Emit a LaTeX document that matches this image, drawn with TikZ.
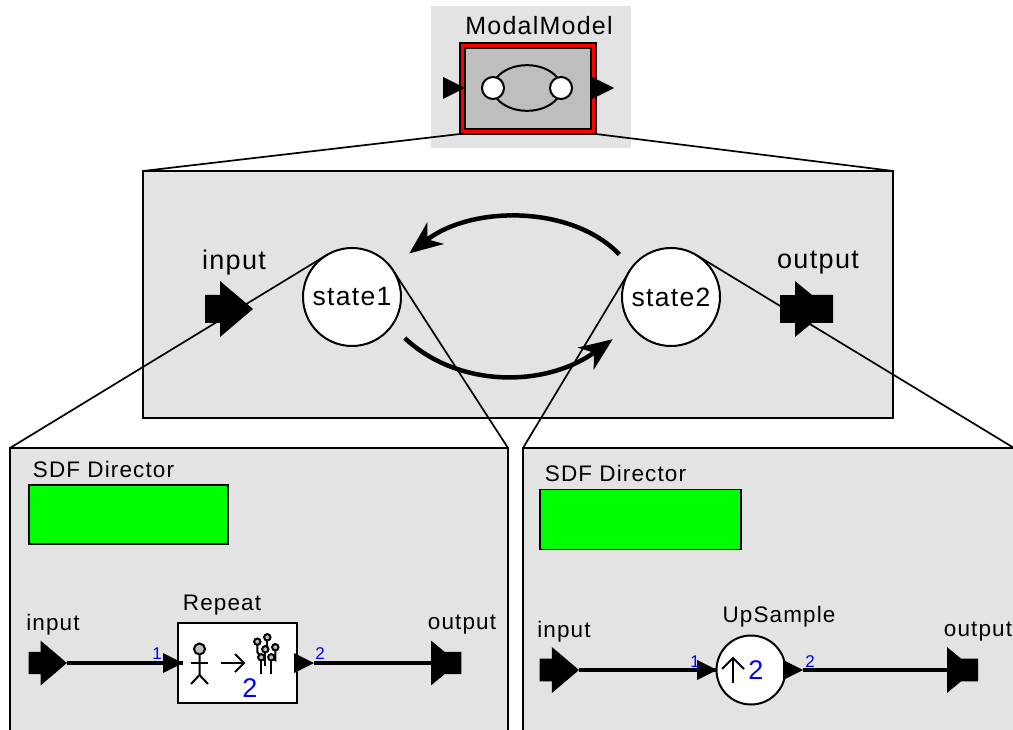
\documentclass[tikz,border=0pt]{standalone}
\usepackage{fontspec}
\usepackage{tikz}
\usetikzlibrary{arrows.meta}
\setmainfont{Liberation Sans}
\newfontfamily\widefont[LetterSpace=5]{Liberation Sans}
\definecolor{panelgray}{RGB}{227,227,227}
\definecolor{modelgray}{RGB}{190,190,190}
\definecolor{dirgreen}{RGB}{0,255,0}
\tikzset{
  panel/.style={rectangle, draw, fill=panelgray, line width=1.7pt, inner sep=0pt, outer sep=0pt},
  director/.style={rectangle, draw, fill=dirgreen, line width=1.7pt, inner sep=0pt, outer sep=0pt},
  state/.style={circle, draw, fill=white, line width=2pt, minimum size=98pt, inner sep=0pt, outer sep=0pt, font=\widefont\fontsize{26.5}{27}\selectfont},
  biglabel/.style={inner sep=0pt, font=\widefont\fontsize{27}{27}\selectfont},
  smalllabel/.style={inner sep=0pt, font=\widefont\fontsize{22.5}{22}\selectfont},
  portnum/.style={inner sep=0pt, text=blue, font=\fontsize{17}{17}\selectfont},
  factor/.style={inner sep=0pt, text=blue, font=\fontsize{27}{27}\selectfont},
  zoomline/.style={line width=1.7pt},
  wire/.style={line width=4.3pt},
  iconline/.style={line width=2pt},
  trans/.style={line width=4.5pt, -{Stealth[length=33pt,width=27pt,inset=10pt]}},
  inport/.pic={\fill (-48,-14) -- (-33,-14) -- (-33,-28) -- (0,0) -- (-33,28) -- (-33,14) -- (-48,14) -- cycle;
    \coordinate (-tip) at (0,0);},
  outport/.pic={\fill (0,-28) -- (17,-14) -- (38,-14) -- (38,14) -- (17,14) -- (0,28) -- cycle;
    \coordinate (-base) at (0,0);},
  triport/.pic={\fill (-20,-10) -- (0,0) -- (-20,10) -- cycle;
    \coordinate (-tip) at (0,0);},
}
\begin{document}
\begin{tikzpicture}[x=1pt,y=-1pt]
  \path[use as bounding box, clip] (0,0) rectangle (1013,730);

  % Grey backgrounds
  \node[rectangle, fill=panelgray, inner sep=0pt, minimum width=200pt, minimum height=142pt] (modelBack) at (531,77) {};
  \node[panel, minimum width=750pt, minimum height=247pt] (canvas) at (518,294.5) {};
  \node[panel, minimum width=498pt, minimum height=352pt] (leftPanel) at (259,624) {};
  \node[panel, minimum width=491pt, minimum height=352pt] (rightPanel) at (768.5,624) {};

  % ModalModel actor
  \node[biglabel, font=\widefont\fontsize{25}{25}\selectfont] (modelName) at (539,26) {ModalModel};
  \node[rectangle, draw, fill=red, line width=2pt, inner sep=0pt, outer sep=0pt, minimum width=136pt, minimum height=91pt] (modelBox) at (528,88.5) {};
  \node[rectangle, draw, fill=modelgray, line width=2pt, inner sep=0pt, outer sep=0pt, minimum width=126pt, minimum height=81pt] (modelInner) at (528,88.5) {};
  \node[circle, draw, fill=white, iconline, minimum size=22pt, inner sep=0pt, outer sep=0pt] (iconL) at (493,88) {};
  \node[circle, draw, fill=white, iconline, minimum size=22pt, inner sep=0pt, outer sep=0pt] (iconR) at (561,88) {};
  \draw[iconline] (iconL.70) .. controls (510,61) and (544,61) .. (iconR.110);
  \draw[iconline] (iconL.-70) .. controls (510,115) and (544,115) .. (iconR.-110);
  \pic[scale=1.1] (modelIn) at (465,88) {triport};
  \pic[scale=1.15] (modelOut) at (614,88) {triport};

  % Zoom lines
  \draw[zoomline] (modelBox.south west) -- (canvas.north west);
  \draw[zoomline] (modelBox.south east) -- (canvas.north east);
  \node[state] (state1) at (352,297) {state1};
  \node[state] (state2) at (671,297) {state2};
  \draw[zoomline] (state1.120) -- (leftPanel.north west);
  \draw[zoomline] (state1.34) -- (leftPanel.north east);
  \draw[zoomline] (state2.146) -- (rightPanel.north west);
  \draw[zoomline] (state2.60) -- (rightPanel.north east);

  % Transitions
  \draw[trans, shorten <=18pt, shorten >=23pt] (state2.143) .. controls (572,205) and (472,205) .. (state1.37);
  \draw[trans, shorten <=18pt, shorten >=23pt] (state1.-36) .. controls (458,388) and (545,388) .. (state2.216);

  % Ports of the modal model
  \pic (canvasIn) at (253,309) {inport};
  \pic (canvasOut) at (795,309) {outport};
  \fill (780,295) rectangle (812,323);
  \node[biglabel] (canvasInName) at (234,263) {input};
  \node[biglabel] (canvasOutName) at (818,263) {output};

  % Left refinement
  \node[smalllabel] (leftDirName) at (103.5,469.5) {SDF Director};
  \node[director, minimum width=199pt, minimum height=59pt] (leftDir) at (128.5,514.5) {};
  \node[panel, fill=white, minimum width=119pt, minimum height=80pt] (repeat) at (237.5,663) {};
  \node[smalllabel] (repeatName) at (222,605) {Repeat};
  \node[smalllabel] (leftInName) at (53,625) {input};
  \node[smalllabel] (leftOutName) at (462,625) {output};
  \pic[scale=.8] (leftIn) at (67,663) {inport};
  \pic[scale=.8] (leftOut) at (431,663) {outport};
  \pic (repeatIn) at (183,663) {triport};
  \pic (repeatOut) at (314,663) {triport};
  \draw[wire] (leftIn-tip) -- (repeatIn-tip);
  \draw[wire] (repeatOut-tip) -- (leftOut-base);
  \node[portnum] (repeatInNum) at (157,654) {1};
  \node[portnum] (repeatOutNum) at (320,654) {2};
  \node[factor] (repeatFactor) at (250,688) {2};

  % Repeat icon
  \draw[iconline, fill=modelgray] (199.5,649) circle (5.5);
  \draw[iconline] (199.5,654) -- (199.5,675) -- (191,684);
  \draw[iconline] (199.5,675) -- (208,684);
  \draw[iconline] (191,663) -- (208,663);
  \draw[iconline] (221,663) -- (244,663);
  \draw[iconline] (235,654) -- (244,663) -- (235,672);
  \draw[iconline] (257.3,641.7) -- (257.3,652) -- (261.3,657.3);
  \draw[iconline] (267.3,637.3) -- (267.3,648);
  \draw[iconline] (265.3,649.3) -- (265.3,666);
  \draw[iconline] (275.3,647.3) -- (275.3,660) -- (271.3,657.3);
  \draw[iconline] (261.3,657.3) -- (261.3,674);
  \draw[iconline] (271.3,657.3) -- (271.3,674);
  \foreach \tx/\ty in {257.3/641.7, 267.3/637.3, 265.3/649.3, 275.3/647.3, 261.3/657.3, 271.3/657.3}
    \draw[iconline, fill=modelgray] (\tx,\ty) circle (3.2);

  % Right refinement
  \node[smalllabel] (rightDirName) at (615.5,473.5) {SDF Director};
  \node[director, minimum width=201pt, minimum height=60pt] (rightDir) at (640.5,519.5) {};
  \node[circle, draw, fill=white, iconline, minimum size=69pt, inner sep=0pt, outer sep=0pt] (upsample) at (751,670) {};
  \node[smalllabel] (upsampleName) at (779,617) {UpSample};
  \node[smalllabel] (rightInName) at (564,632) {input};
  \node[smalllabel] (rightOutName) at (978,632) {output};
  \pic[scale=.82] (rightIn) at (579,670) {inport};
  \pic[scale=.82] (rightOut) at (947,670) {outport};
  \pic (upsampleIn) at (717,670) {triport};
  \pic (upsampleOut) at (803,670) {triport};
  \draw[wire] (rightIn-tip) -- (upsampleIn-tip);
  \draw[wire] (upsampleOut-tip) -- (rightOut-base);
  \node[portnum] (upsampleInNum) at (695,662) {1};
  \node[portnum] (upsampleOutNum) at (810,662) {2};
  \node[factor] (upsampleFactor) at (756,670) {2};
  \draw[iconline] (733,683) -- (733,658);
  \draw[iconline] (722,669) -- (733,658) -- (744,669);
\end{tikzpicture}
\end{document}
